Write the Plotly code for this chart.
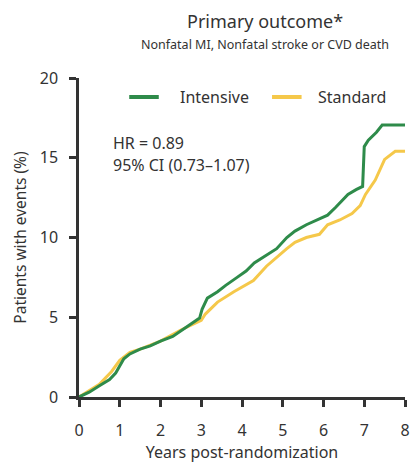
import plotly.graph_objects as go

# Data
intensive_t = [0, 0.25, 0.5, 0.75, 0.9, 1.0, 1.1, 1.25, 1.5, 1.75, 2.0, 2.3, 2.6, 2.96, 3.02, 3.15,
               3.4, 3.6, 3.88, 4.1, 4.3, 4.6, 4.85, 5.1, 5.3, 5.58, 5.75, 5.9, 6.1, 6.3, 6.45, 6.6,
               6.8, 6.96, 7.0, 7.1, 7.3, 7.44, 8.0]
intensive_v = [0, 0.3, 0.7, 1.1, 1.5, 2.0, 2.4, 2.7, 3.0, 3.2, 3.5, 3.8, 4.3, 4.95, 5.5, 6.2,
               6.6, 7.0, 7.5, 7.9, 8.4, 8.9, 9.3, 10.0, 10.4, 10.8, 11.0, 11.2, 11.4, 11.9, 12.3, 12.7,
               13.0, 13.2, 15.7, 16.1, 16.6, 17.05, 17.05]

standard_t = [0, 0.25, 0.5, 0.8, 1.0, 1.25, 1.5, 2.0, 2.5, 3.0, 3.1, 3.4, 3.8, 4.28, 4.6, 5.1,
              5.3, 5.58, 5.9, 6.1, 6.4, 6.7, 6.9, 7.03, 7.27, 7.5, 7.76, 8.0]
standard_v = [0, 0.4, 0.8, 1.6, 2.3, 2.8, 3.0, 3.5, 4.2, 4.8, 5.2, 5.95, 6.6, 7.3, 8.2, 9.3,
              9.7, 10.0, 10.2, 10.8, 11.1, 11.5, 12.0, 12.7, 13.6, 14.9, 15.4, 15.4]

x_ticks = [0, 1, 2, 3, 4, 5, 6, 7, 8]
y_ticks = [0, 5, 10, 15, 20]

GREEN = "#2e8b4a"
YELLOW = "#f5c84a"
TXT = "#333333"
FONT = "Noto Sans"

# plot area in pixels
L, T, W, H = 79, 78, 331, 319


def px(x):
    return (x - L) / W


def py(y):
    return 1 - (y - T) / H


fig = go.Figure()
fig.add_trace(go.Scatter(x=standard_t, y=standard_v, mode="lines", name="Standard",
                         line=dict(color=YELLOW, width=3), showlegend=False))
fig.add_trace(go.Scatter(x=intensive_t, y=intensive_v, mode="lines", name="Intensive",
                         line=dict(color=GREEN, width=3), showlegend=False))

fig.update_layout(
    width=415, height=466,
    margin=dict(l=L, r=415 - L - W, t=T, b=466 - T - H),
    plot_bgcolor="white", paper_bgcolor="white",
    font=dict(family=FONT, color=TXT, size=13),
    xaxis=dict(range=[0, 8], tickvals=x_ticks, showgrid=False, zeroline=False,
               showline=True, linecolor=TXT, linewidth=2.5,
               ticks="outside", ticklen=7, tickwidth=2.5, tickcolor=TXT,
               tickfont=dict(size=16, color=TXT), ticklabelstandoff=10,
               title=dict(text="Years post-randomization", font=dict(size=16, color=TXT), standoff=6)),
    yaxis=dict(range=[0, 20], tickvals=y_ticks, showgrid=False, zeroline=False,
               showline=True, linecolor=TXT, linewidth=2.5,
               ticks="outside", ticklen=7, tickwidth=2.5, tickcolor=TXT,
               tickfont=dict(size=16, color=TXT), ticklabelstandoff=8,
               title=dict(text="Patients with events (%)", font=dict(size=15.5, color=TXT), standoff=10)),
)

# Titles
fig.add_annotation(text="Primary outcome*", xref="paper", yref="paper",
                   x=px(268), y=py(21), xanchor="center", yanchor="middle",
                   showarrow=False, font=dict(size=18, color=TXT))
fig.add_annotation(text="Nonfatal MI, Nonfatal stroke or CVD death", xref="paper", yref="paper",
                   x=px(268), y=py(44), xanchor="center", yanchor="middle",
                   showarrow=False, font=dict(size=12.5, color=TXT))

# Legend (manual)
legend_items = [("Intensive", GREEN, 130, 160, 180), ("Standard", YELLOW, 275, 305, 320)]
for name, col, x0, x1, xt in legend_items:
    fig.add_shape(type="line", xref="paper", yref="paper", x0=px(x0), x1=px(x1),
                  y0=py(97), y1=py(97), line=dict(color=col, width=4))
    fig.add_annotation(text=name, xref="paper", yref="paper", x=px(xt), y=py(97),
                       xanchor="left", yanchor="middle", showarrow=False,
                       font=dict(size=16, color=TXT))

# Stats
fig.add_annotation(text="HR = 0.89", xref="paper", yref="paper",
                   x=px(111), y=py(143), xanchor="left", yanchor="middle",
                   showarrow=False, font=dict(size=16, color=TXT))
fig.add_annotation(text="95% CI (0.73\u20131.07)", xref="paper", yref="paper",
                   x=px(111), y=py(165), xanchor="left", yanchor="middle",
                   showarrow=False, font=dict(size=16, color=TXT))

fig.write_html("out.html")
